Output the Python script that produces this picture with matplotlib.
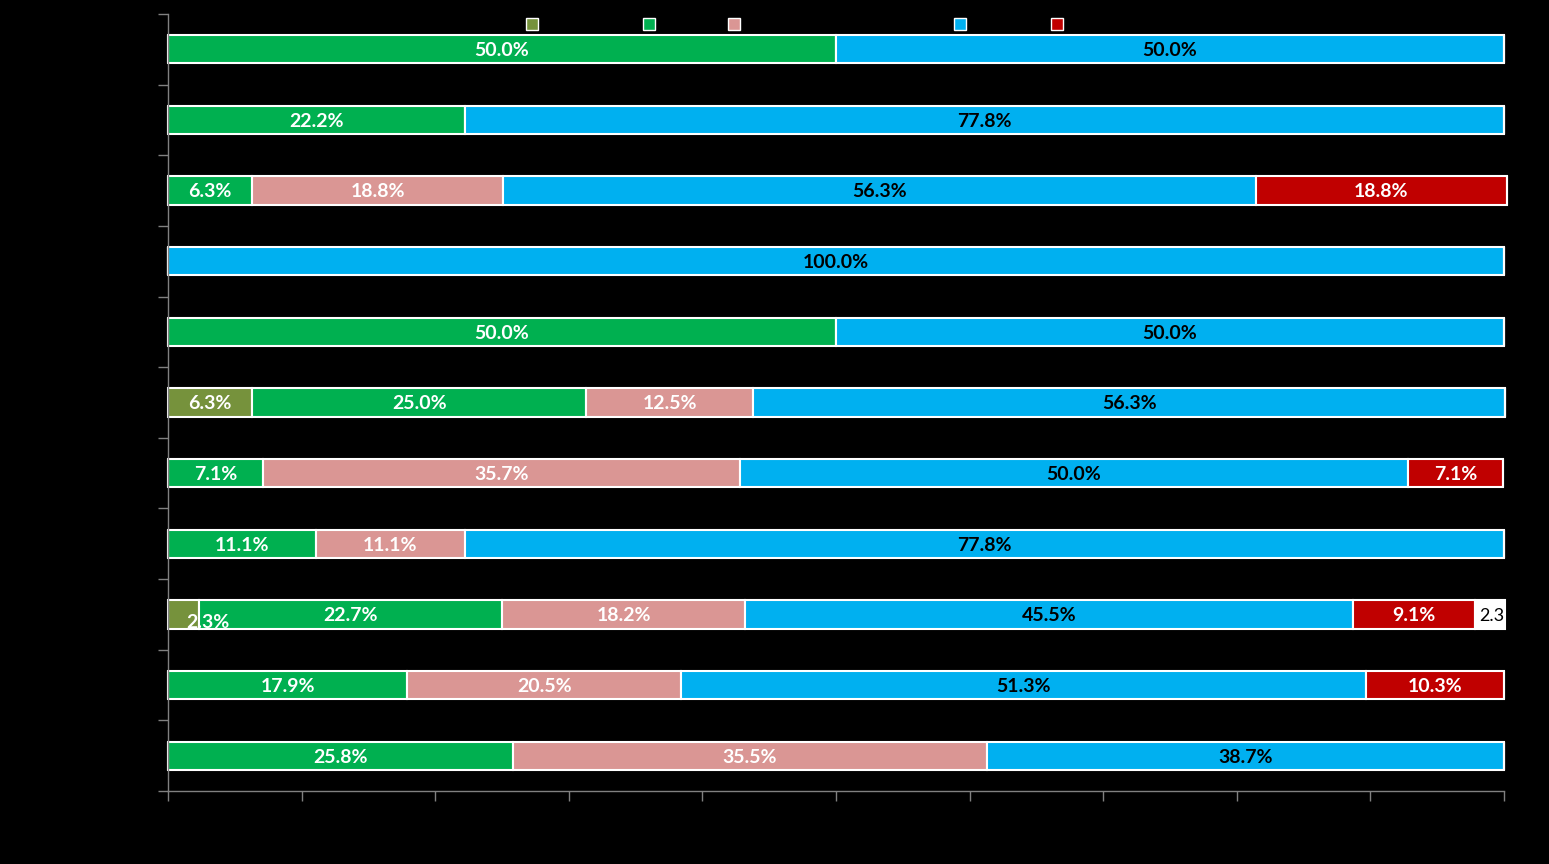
import matplotlib.pyplot as plt
import numpy as np

plt.rcParams['font.family'] = ['Lato', 'DejaVu Sans']

# rows listed top to bottom
groups = ["Group A", "Group B", "Group C", "Group D", "Group E", "Group F",
          "Group G", "Group H", "Group I", "Group J", "Group K"]
series = ["Fully agree", "Agree", "Somewhat agree or neutral", "Oppose",
          "Strongly disagree", "No answer"]
olive = [0, 0, 0, 0, 0, 6.3, 0, 0, 2.3, 0, 0]
green = [50.0, 22.2, 6.3, 0, 50.0, 25.0, 7.1, 11.1, 22.7, 17.9, 25.8]
pink = [0, 0, 18.8, 0, 0, 12.5, 35.7, 11.1, 18.2, 20.5, 35.5]
blue = [50.0, 77.8, 56.3, 100.0, 50.0, 56.3, 50.0, 77.8, 45.5, 51.3, 38.7]
red = [0, 0, 18.8, 0, 0, 0, 7.1, 0, 9.1, 10.3, 0]
white = [0, 0, 0, 0, 0, 0, 0, 0, 2.3, 0, 0]

colors = ["#76923C", "#00B050", "#DA9694", "#00B0F0", "#C00000", "#FFFFFF"]
text_colors = ["white", "white", "white", "black", "white", "black"]

fig = plt.figure(figsize=(15.49, 8.64), dpi=100, facecolor="black")
ax = fig.add_axes([0.1085, 0.0845, 0.8625, 0.8993])
ax.set_facecolor("black")

y = np.arange(len(groups))
left = np.zeros(len(groups))
for vals, col, tcol in zip([olive, green, pink, blue, red, white], colors, text_colors):
    vals = np.array(vals)
    ax.barh(y, vals, left=left, height=0.4, color=col,
            edgecolor="white", linewidth=1.5, clip_on=False)
    for i, v in enumerate(vals):
        if v <= 0:
            continue
        cx = left[i] + v / 2
        if col == "#FFFFFF":
            # last small segment: label runs past the axis and gets cut
            ax.text(left[i] + 0.35, y[i] + 0.02, f"{v:.1f}", color="black", fontsize=13,
                    ha="left", va="center", clip_on=True)
        elif v < 3:
            ax.text(cx + 1.8, y[i] + 0.11, f"{v:.1f}%", color=tcol, fontsize=14,
                    fontweight="bold", ha="center", va="center")
        else:
            ax.text(cx, y[i] + 0.02, f"{v:.1f}%", color=tcol, fontsize=14,
                    fontweight="bold", ha="center", va="center")
    left += vals

ax.set_xlim(0, 100)
ax.set_ylim(len(groups) - 0.5, -0.5)

ax.set_xticks(np.arange(0, 101, 10))
ax.set_xticklabels([f"{t}%" for t in range(0, 101, 10)], color="black")
ax.set_yticks(y)
ax.set_yticklabels(groups, color="black")
ax.set_yticks(np.arange(-0.5, len(groups), 1), minor=True)
ax.tick_params(axis="y", which="major", length=0)
ax.tick_params(axis="y", which="minor", length=7, color="#808080", width=1)
ax.tick_params(axis="x", length=7, color="#808080", width=1)

for s in ["top", "right"]:
    ax.spines[s].set_visible(False)
for s in ["left", "bottom"]:
    ax.spines[s].set_color("#808080")
    ax.spines[s].set_linewidth(1)

handles = [plt.Line2D([], [], marker="s", linestyle="", markersize=9,
                      markerfacecolor=c, markeredgecolor="white", markeredgewidth=1)
           for c in colors[:5]]
fig.legend(handles, series[:5], loc="center left", bbox_to_anchor=(0.3245, 0.971),
           ncol=5, frameon=False, fontsize=11, labelcolor="black",
           handletextpad=0.3, columnspacing=0.6)

fig.savefig("out.png", dpi=100, facecolor="black")
